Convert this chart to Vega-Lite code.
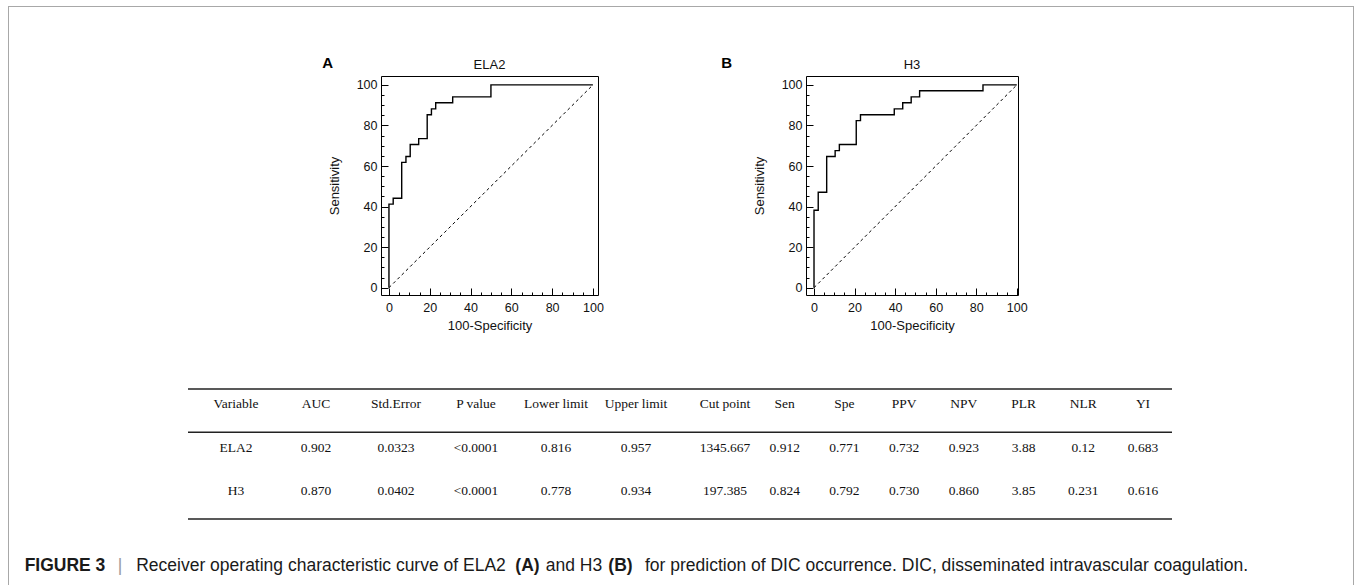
{
  "$schema": "https://vega.github.io/schema/vega-lite/v6.json",
  "padding": {"left": 8, "top": 6, "right": 0, "bottom": 0},
  "background": "white",
  "config": {"view": {"stroke": null}, "font": "Liberation Sans"},
  "datasets": {
    "rocA": [
      {"fpr": 0, "tpr": 0}, {"fpr": 2.08, "tpr": 41.2}, {"fpr": 6.25, "tpr": 44.1}, {"fpr": 8.33, "tpr": 61.8},
      {"fpr": 10.42, "tpr": 64.7}, {"fpr": 14.58, "tpr": 70.6}, {"fpr": 18.75, "tpr": 73.5}, {"fpr": 20.83, "tpr": 85.3},
      {"fpr": 22.92, "tpr": 88.2}, {"fpr": 31.25, "tpr": 91.2}, {"fpr": 50, "tpr": 94.1}, {"fpr": 100, "tpr": 100}
    ],
    "rocB": [
      {"fpr": 0, "tpr": 0}, {"fpr": 2.08, "tpr": 38.2}, {"fpr": 6.25, "tpr": 47.1}, {"fpr": 10.42, "tpr": 64.7},
      {"fpr": 12.5, "tpr": 67.6}, {"fpr": 20.83, "tpr": 70.6}, {"fpr": 22.92, "tpr": 82.4}, {"fpr": 39.58, "tpr": 85.3},
      {"fpr": 43.75, "tpr": 88.2}, {"fpr": 47.92, "tpr": 91.2}, {"fpr": 52.08, "tpr": 94.1}, {"fpr": 83.33, "tpr": 97.1},
      {"fpr": 100, "tpr": 100}
    ],
    "diag": [{"fpr": 0, "tpr": 0}, {"fpr": 100, "tpr": 100}],
    "rules": [{"boundary": 0}, {"boundary": 1}, {"boundary": 3}],
    "table": [
      {"row": "head", "col": "Variable", "text": "Variable"},
      {"row": "head", "col": "AUC", "text": "AUC"},
      {"row": "head", "col": "Std.Error", "text": "Std.Error"},
      {"row": "head", "col": "P value", "text": "P value"},
      {"row": "head", "col": "Lower limit", "text": "Lower limit"},
      {"row": "head", "col": "Upper limit", "text": "Upper limit"},
      {"row": "head", "col": "Cut point", "text": "Cut point"},
      {"row": "head", "col": "Sen", "text": "Sen"},
      {"row": "head", "col": "Spe", "text": "Spe"},
      {"row": "head", "col": "PPV", "text": "PPV"},
      {"row": "head", "col": "NPV", "text": "NPV"},
      {"row": "head", "col": "PLR", "text": "PLR"},
      {"row": "head", "col": "NLR", "text": "NLR"},
      {"row": "head", "col": "YI", "text": "YI"},
      {"row": "ELA2", "col": "Variable", "text": "ELA2"},
      {"row": "ELA2", "col": "AUC", "text": "0.902"},
      {"row": "ELA2", "col": "Std.Error", "text": "0.0323"},
      {"row": "ELA2", "col": "P value", "text": "<0.0001"},
      {"row": "ELA2", "col": "Lower limit", "text": "0.816"},
      {"row": "ELA2", "col": "Upper limit", "text": "0.957"},
      {"row": "ELA2", "col": "Cut point", "text": "1345.667"},
      {"row": "ELA2", "col": "Sen", "text": "0.912"},
      {"row": "ELA2", "col": "Spe", "text": "0.771"},
      {"row": "ELA2", "col": "PPV", "text": "0.732"},
      {"row": "ELA2", "col": "NPV", "text": "0.923"},
      {"row": "ELA2", "col": "PLR", "text": "3.88"},
      {"row": "ELA2", "col": "NLR", "text": "0.12"},
      {"row": "ELA2", "col": "YI", "text": "0.683"},
      {"row": "H3", "col": "Variable", "text": "H3"},
      {"row": "H3", "col": "AUC", "text": "0.870"},
      {"row": "H3", "col": "Std.Error", "text": "0.0402"},
      {"row": "H3", "col": "P value", "text": "<0.0001"},
      {"row": "H3", "col": "Lower limit", "text": "0.778"},
      {"row": "H3", "col": "Upper limit", "text": "0.934"},
      {"row": "H3", "col": "Cut point", "text": "197.385"},
      {"row": "H3", "col": "Sen", "text": "0.824"},
      {"row": "H3", "col": "Spe", "text": "0.792"},
      {"row": "H3", "col": "PPV", "text": "0.730"},
      {"row": "H3", "col": "NPV", "text": "0.860"},
      {"row": "H3", "col": "PLR", "text": "3.85"},
      {"row": "H3", "col": "NLR", "text": "0.231"},
      {"row": "H3", "col": "YI", "text": "0.616"}
    ],
    "caption": [
      {"part": "fig", "text": "FIGURE 3"},
      {"part": "bar", "text": "|"},
      {"part": "s1", "text": "Receiver operating characteristic curve of ELA2"},
      {"part": "a", "text": "(A)"},
      {"part": "s2", "text": "and H3"},
      {"part": "b", "text": "(B)"},
      {"part": "s3", "text": "for prediction of DIC occurrence. DIC, disseminated intravascular coagulation."}
    ]
  },
  "columns": 3,
  "align": "each",
  "bounds": "flush",
  "spacing": 0,
  "concat": [
    {"width": 1, "height": 1, "view": {"fill": "#a8a8a8", "stroke": null}, "data": {"values": []}, "mark": "point"},
    {"width": 1344, "height": 1, "view": {"fill": "#a8a8a8", "stroke": null}, "data": {"values": []}, "mark": "point"},
    {"width": 1, "height": 1, "view": {"fill": "#a8a8a8", "stroke": null}, "data": {"values": []}, "mark": "point"},

    {"width": 1, "height": 69, "view": {"fill": "#a8a8a8", "stroke": null}, "data": {"values": []}, "mark": "point"},
    {"width": 1344, "height": 69, "data": {"values": []}, "mark": "point"},
    {"width": 1, "height": 69, "view": {"fill": "#a8a8a8", "stroke": null}, "data": {"values": []}, "mark": "point"},

    {"width": 1, "height": 313, "view": {"fill": "#a8a8a8", "stroke": null}, "data": {"values": []}, "mark": "point"},
    {
      "bounds": "flush",
      "spacing": 0,
      "hconcat": [
        {"width": 372, "height": 219, "data": {"values": []}, "mark": "point",
         "title": {"text": "A", "anchor": "end", "dx": -48, "offset": 5, "font": "Liberation Sans", "fontSize": 15, "fontWeight": "bold", "color": "black"}},
        {
          "width": 217, "height": 219,
          "view": {"stroke": "black", "strokeWidth": 1},
          "title": {"text": "ELA2", "anchor": "middle", "frame": "group", "offset": 4, "font": "Liberation Sans", "fontSize": 13, "fontWeight": "normal", "color": "#111"},
          "encoding": {
            "x": {"field": "fpr", "type": "quantitative",
              "scale": {"domain": [-3.9, 102.5], "nice": false, "zero": false},
              "axis": {"values": [0,5,10,15,20,25,30,35,40,45,50,55,60,65,70,75,80,85,90,95,100],
                "labelExpr": "datum.value % 20 === 0 ? datum.label : ''",
                "tickSize": {"condition": {"test": "datum.value % 20 === 0", "value": -7}, "value": -3},
                "tickColor": "black", "domain": false, "grid": false,
                "labelFont": "Liberation Sans", "labelFontSize": 12.5, "labelColor": "#111", "labelPadding": 13,
                "labelFlush": false, "labelOverlap": false,
                "title": "100-Specificity", "titleFont": "Liberation Sans", "titleFontSize": 13, "titleFontWeight": "normal", "titleColor": "#111", "titlePadding": 2}},
            "y": {"field": "tpr", "type": "quantitative",
              "scale": {"domain": [-3.6, 104.4], "nice": false, "zero": false},
              "axis": {"values": [0,5,10,15,20,25,30,35,40,45,50,55,60,65,70,75,80,85,90,95,100],
                "labelExpr": "datum.value % 20 === 0 ? datum.label : ''",
                "tickSize": {"condition": {"test": "datum.value % 20 === 0", "value": -7}, "value": -3},
                "tickColor": "black", "domain": false, "grid": false,
                "labelFont": "Liberation Sans", "labelFontSize": 12.5, "labelColor": "#111", "labelPadding": 11,
                "labelFlush": false, "labelOverlap": false,
                "title": "Sensitivity", "titleFont": "Liberation Sans", "titleFontSize": 13, "titleFontWeight": "normal", "titleColor": "#111", "titlePadding": 15}}
          },
          "layer": [
            {"data": {"name": "diag"}, "mark": {"type": "line", "color": "black", "strokeWidth": 1, "strokeDash": [3, 3]}},
            {"data": {"name": "rocA"}, "mark": {"type": "line", "interpolate": "step-before", "color": "black", "strokeWidth": 1.4}}
          ]
        },
        {"width": 208, "height": 219, "data": {"values": []}, "mark": "point",
         "title": {"text": "B", "anchor": "end", "dx": -74, "offset": 5, "font": "Liberation Sans", "fontSize": 15, "fontWeight": "bold", "color": "black"}},
        {
          "width": 212, "height": 219,
          "view": {"stroke": "black", "strokeWidth": 1},
          "title": {"text": "H3", "anchor": "middle", "frame": "group", "offset": 4, "font": "Liberation Sans", "fontSize": 13, "fontWeight": "normal", "color": "#111"},
          "encoding": {
            "x": {"field": "fpr", "type": "quantitative",
              "scale": {"domain": [-3.95, 100.6], "nice": false, "zero": false},
              "axis": {"values": [0,5,10,15,20,25,30,35,40,45,50,55,60,65,70,75,80,85,90,95,100],
                "labelExpr": "datum.value % 20 === 0 ? datum.label : ''",
                "tickSize": {"condition": {"test": "datum.value % 20 === 0", "value": -7}, "value": -3},
                "tickColor": "black", "domain": false, "grid": false,
                "labelFont": "Liberation Sans", "labelFontSize": 12.5, "labelColor": "#111", "labelPadding": 13,
                "labelFlush": false, "labelOverlap": false,
                "title": "100-Specificity", "titleFont": "Liberation Sans", "titleFontSize": 13, "titleFontWeight": "normal", "titleColor": "#111", "titlePadding": 2}},
            "y": {"field": "tpr", "type": "quantitative",
              "scale": {"domain": [-3.6, 104.4], "nice": false, "zero": false},
              "axis": {"values": [0,5,10,15,20,25,30,35,40,45,50,55,60,65,70,75,80,85,90,95,100],
                "labelExpr": "datum.value % 20 === 0 ? datum.label : ''",
                "tickSize": {"condition": {"test": "datum.value % 20 === 0", "value": -7}, "value": -3},
                "tickColor": "black", "domain": false, "grid": false,
                "labelFont": "Liberation Sans", "labelFontSize": 12.5, "labelColor": "#111", "labelPadding": 11,
                "labelFlush": false, "labelOverlap": false,
                "title": "Sensitivity", "titleFont": "Liberation Sans", "titleFontSize": 13, "titleFontWeight": "normal", "titleColor": "#111", "titlePadding": 15}}
          },
          "layer": [
            {"data": {"name": "diag"}, "mark": {"type": "line", "color": "black", "strokeWidth": 1, "strokeDash": [3, 3]}},
            {"data": {"name": "rocB"}, "mark": {"type": "line", "interpolate": "step-before", "color": "black", "strokeWidth": 1.4}}
          ]
        }
      ]
    },
    {"width": 1, "height": 313, "view": {"fill": "#a8a8a8", "stroke": null}, "data": {"values": []}, "mark": "point"},

    {"width": 1, "height": 167, "view": {"fill": "#a8a8a8", "stroke": null}, "data": {"values": []}, "mark": "point"},
    {
      "bounds": "flush",
      "spacing": 0,
      "hconcat": [
        {"width": 179, "height": 130, "data": {"values": []}, "mark": "point"},
        {
          "width": 496, "height": 130,
          "resolve": {"scale": {"y": "independent"}},
          "layer": [
            {"data": {"name": "rules"}, "mark": {"type": "rule", "color": "#222", "strokeWidth": 1.5},
             "encoding": {"y": {"field": "boundary", "type": "quantitative", "scale": {"domain": [0, 3], "reverse": true, "nice": false, "zero": false}, "axis": null}}},
            {"data": {"name": "table"},
             "transform": [{"filter": {"field": "col", "oneOf": ["Variable", "AUC", "Std.Error", "P value", "Lower limit", "Upper limit"]}}],
             "mark": {"type": "text", "font": "Liberation Serif", "fontSize": 13.5, "color": "#111", "align": "center", "baseline": "middle"},
             "encoding": {
               "x": {"field": "col", "type": "nominal", "scale": {"type": "point", "domain": ["Variable", "AUC", "Std.Error", "P value", "Lower limit", "Upper limit"], "padding": 0.6, "align": 0.5}, "axis": null},
               "y": {"field": "row", "type": "nominal", "scale": {"type": "point", "domain": ["head", "ELA2", "H3"], "padding": 0.503, "align": 0.356}, "axis": null},
               "text": {"field": "text", "type": "nominal"}
             }}
          ]
        },
        {
          "width": 488, "height": 130,
          "resolve": {"scale": {"y": "independent"}},
          "layer": [
            {"data": {"name": "rules"}, "mark": {"type": "rule", "color": "#222", "strokeWidth": 1.5},
             "encoding": {"y": {"field": "boundary", "type": "quantitative", "scale": {"domain": [0, 3], "reverse": true, "nice": false, "zero": false}, "axis": null}}},
            {"data": {"name": "table"},
             "transform": [{"filter": {"field": "col", "oneOf": ["Cut point", "Sen", "Spe", "PPV", "NPV", "PLR", "NLR", "YI"]}}],
             "mark": {"type": "text", "font": "Liberation Serif", "fontSize": 13.5, "color": "#111", "align": "center", "baseline": "middle"},
             "encoding": {
               "x": {"field": "col", "type": "nominal", "scale": {"type": "point", "domain": ["Cut point", "Sen", "Spe", "PPV", "NPV", "PLR", "NLR", "YI"], "padding": 0.5861, "align": 0.5857}, "axis": null},
               "y": {"field": "row", "type": "nominal", "scale": {"type": "point", "domain": ["head", "ELA2", "H3"], "padding": 0.503, "align": 0.356}, "axis": null},
               "text": {"field": "text", "type": "nominal"}
             }}
          ]
        }
      ]
    },
    {"width": 1, "height": 167, "view": {"fill": "#a8a8a8", "stroke": null}, "data": {"values": []}, "mark": "point"},

    {"width": 1, "height": 29, "view": {"fill": "#a8a8a8", "stroke": null}, "data": {"values": []}, "mark": "point"},
    {
      "bounds": "flush",
      "spacing": 5,
      "hconcat": [
        {"width": 8, "height": 20, "data": {"values": []}, "mark": "point"},
        {"width": 86, "height": 20, "data": {"name": "caption"}, "transform": [{"filter": "datum.part === 'fig'"}],
         "mark": {"type": "text", "font": "Liberation Sans", "fontSize": 17.5, "fontWeight": "bold", "color": "#1a1a1a", "align": "center", "baseline": "middle"},
         "encoding": {"text": {"field": "text", "type": "nominal"}}},
        {"width": 14, "height": 20, "data": {"name": "caption"}, "transform": [{"filter": "datum.part === 'bar'"}],
         "mark": {"type": "text", "font": "Liberation Sans", "fontSize": 17.5, "color": "#9a9a9a", "align": "center", "baseline": "middle"},
         "encoding": {"text": {"field": "text", "type": "nominal"}}},
        {"width": 378, "height": 20, "data": {"name": "caption"}, "transform": [{"filter": "datum.part === 's1'"}],
         "mark": {"type": "text", "font": "Liberation Sans", "fontSize": 17.5, "color": "#1a1a1a", "align": "center", "baseline": "middle"},
         "encoding": {"text": {"field": "text", "type": "nominal"}}},
        {"width": 25, "height": 20, "data": {"name": "caption"}, "transform": [{"filter": "datum.part === 'a'"}],
         "mark": {"type": "text", "font": "Liberation Sans", "fontSize": 17.5, "fontWeight": "bold", "color": "#1a1a1a", "align": "center", "baseline": "middle"},
         "encoding": {"text": {"field": "text", "type": "nominal"}}},
        {"width": 58, "height": 20, "data": {"name": "caption"}, "transform": [{"filter": "datum.part === 's2'"}],
         "mark": {"type": "text", "font": "Liberation Sans", "fontSize": 17.5, "color": "#1a1a1a", "align": "center", "baseline": "middle"},
         "encoding": {"text": {"field": "text", "type": "nominal"}}},
        {"width": 25, "height": 20, "data": {"name": "caption"}, "transform": [{"filter": "datum.part === 'b'"}],
         "mark": {"type": "text", "font": "Liberation Sans", "fontSize": 17.5, "fontWeight": "bold", "color": "#1a1a1a", "align": "center", "baseline": "middle"},
         "encoding": {"text": {"field": "text", "type": "nominal"}}},
        {"width": 617, "height": 20, "data": {"name": "caption"}, "transform": [{"filter": "datum.part === 's3'"}],
         "mark": {"type": "text", "font": "Liberation Sans", "fontSize": 17.5, "color": "#1a1a1a", "align": "center", "baseline": "middle"},
         "encoding": {"text": {"field": "text", "type": "nominal"}}}
      ]
    },
    {"width": 1, "height": 29, "view": {"fill": "#a8a8a8", "stroke": null}, "data": {"values": []}, "mark": "point"}
  ]
}
